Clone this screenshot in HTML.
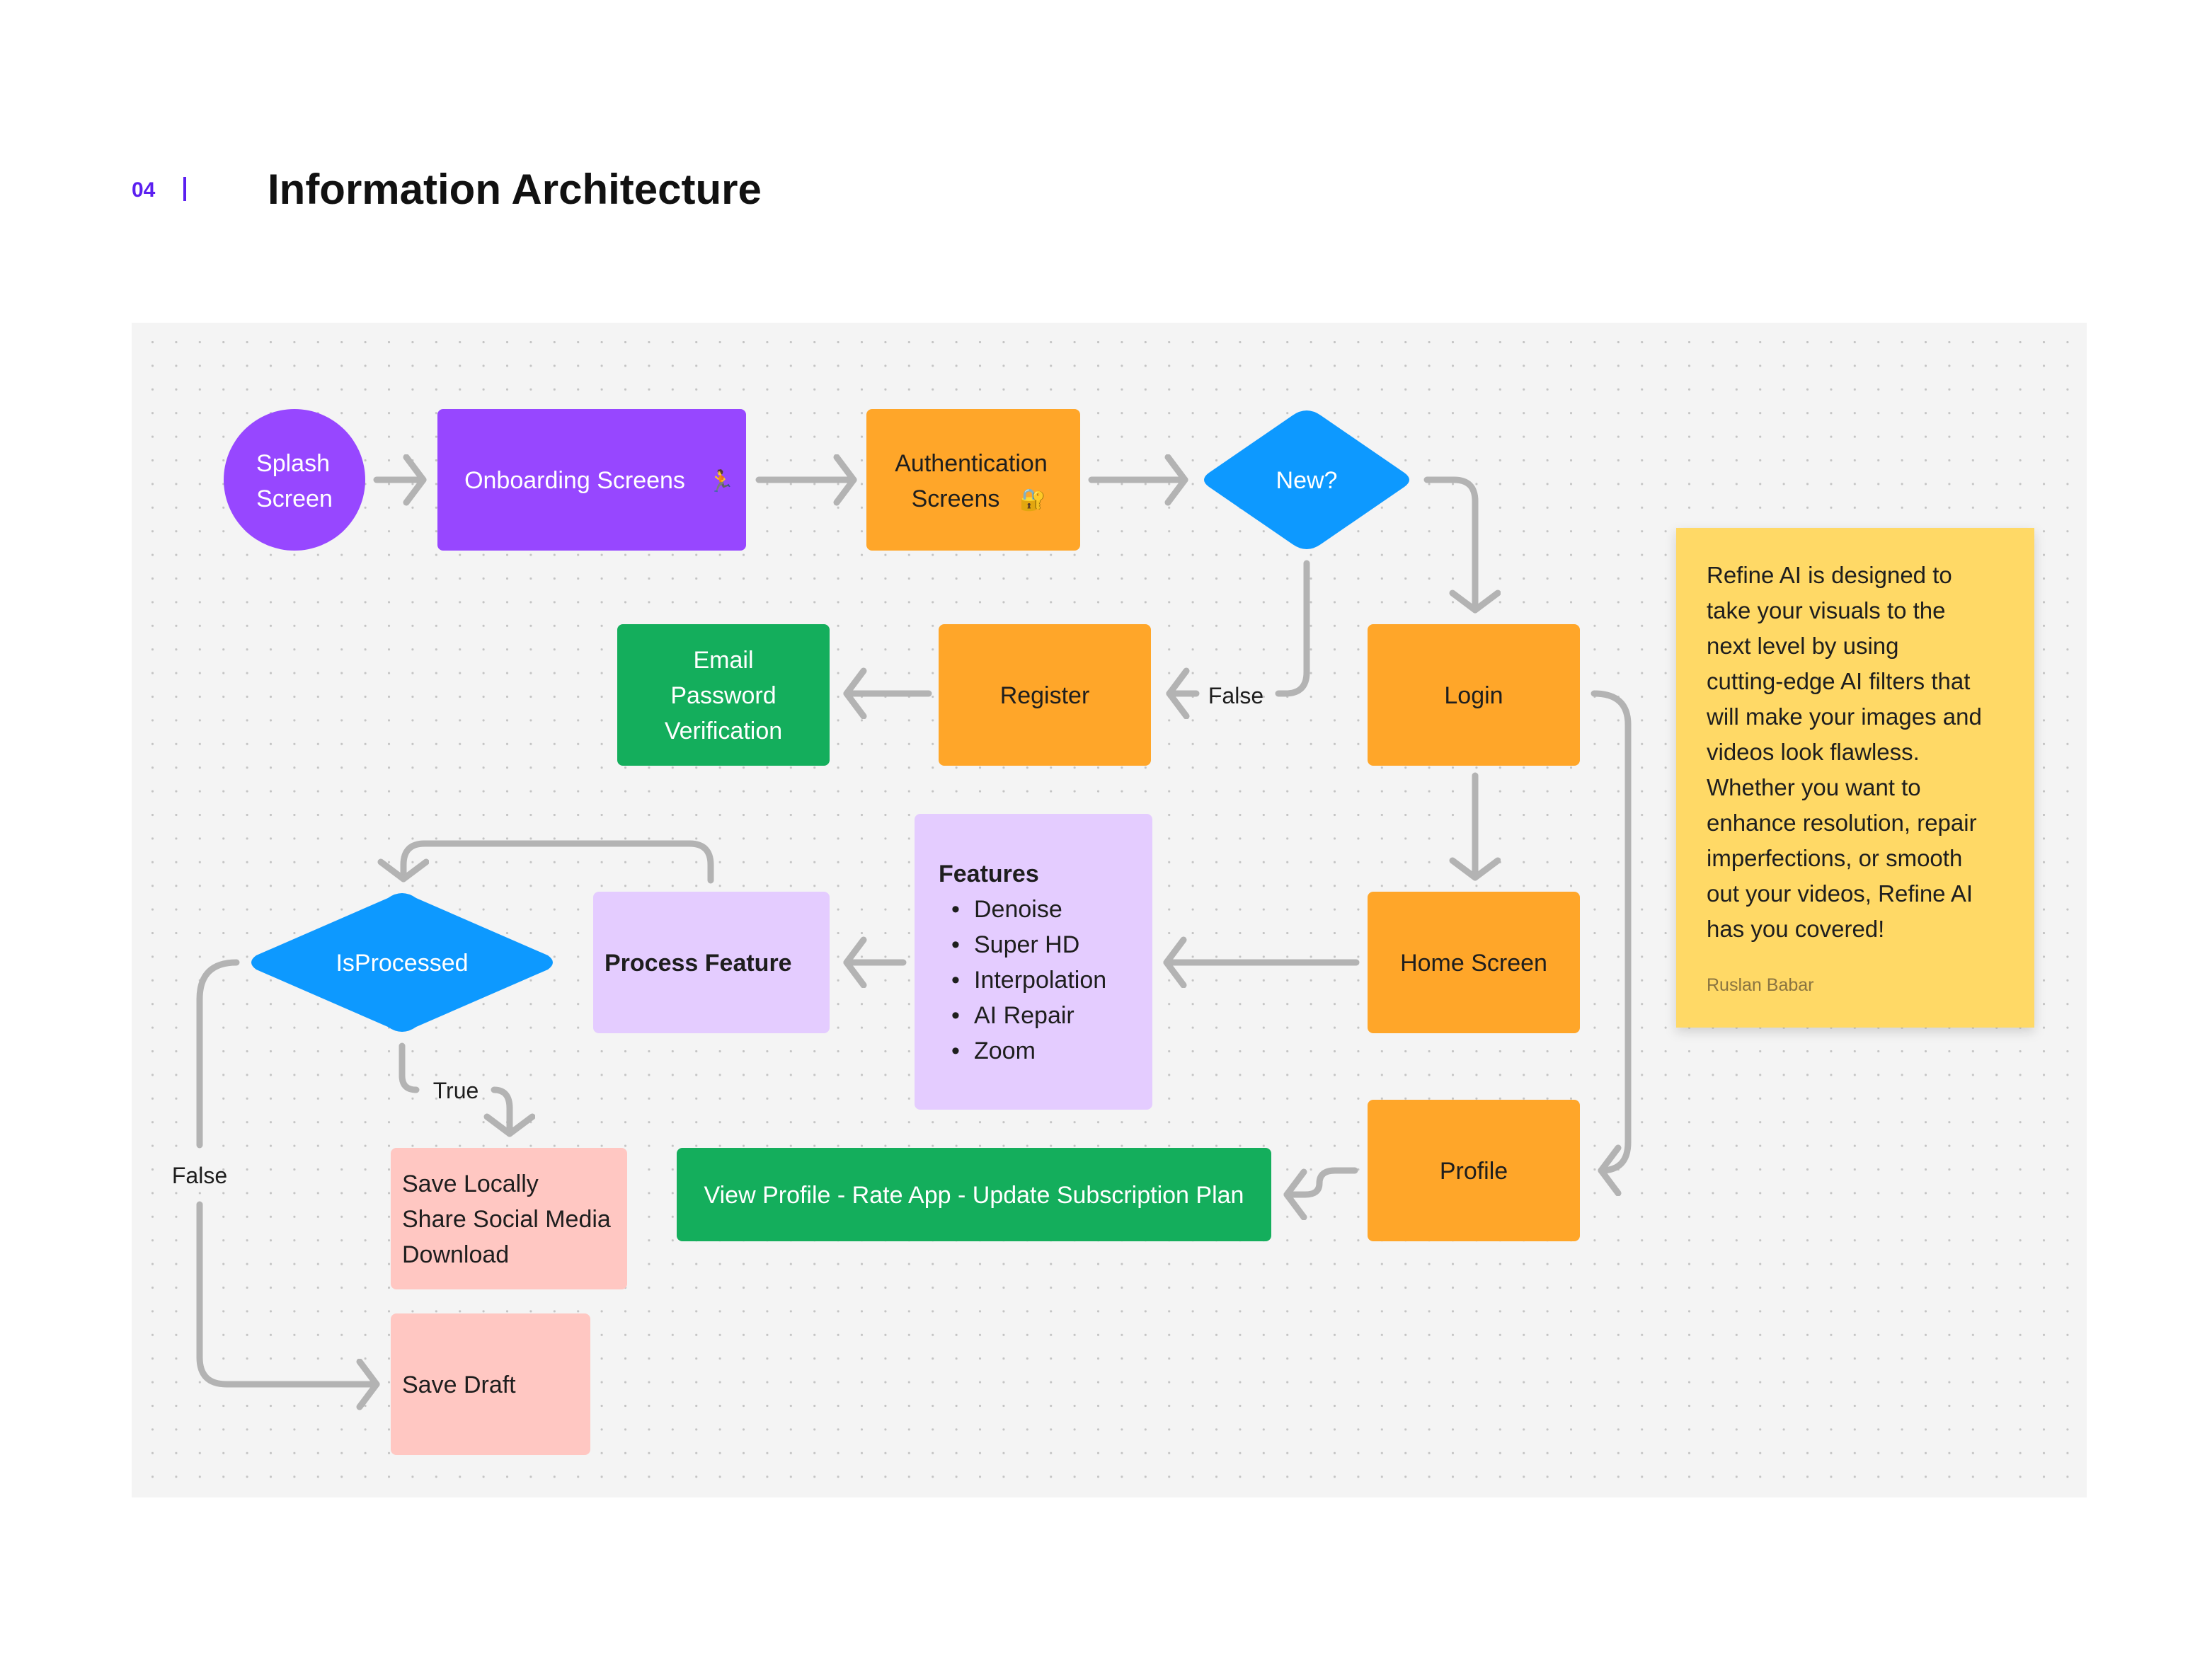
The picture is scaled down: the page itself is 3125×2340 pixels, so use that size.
<!DOCTYPE html>
<html><head><meta charset="utf-8"><style>
html,body{margin:0;padding:0;background:#fff;}
svg{display:block;}
text{font-family:"Liberation Sans",sans-serif;}
</style></head><body>
<svg width="3125" height="2340" viewBox="0 0 3125 2340" xmlns="http://www.w3.org/2000/svg">
<defs>
<pattern id="dots" x="214" y="482" width="33.4" height="33.4" patternUnits="userSpaceOnUse">
<circle cx="1.5" cy="1.5" r="1.6" fill="#c4c4c4"/>
</pattern>
<marker id="ah" markerUnits="userSpaceOnUse" markerWidth="60" markerHeight="80" refX="30" refY="36" orient="auto" viewBox="0 0 60 80">
<path d="M6,4 L30,36 L6,68" fill="none" stroke="#b3b3b3" stroke-width="9" stroke-linecap="round" stroke-linejoin="round"/>
</marker>
<filter id="sh" x="-10%" y="-10%" width="130%" height="130%"><feDropShadow dx="0" dy="6" stdDeviation="8" flood-color="#000" flood-opacity="0.15"/></filter>
</defs>
<rect width="3125" height="2340" fill="#fff"/>
<text x="186" y="278" font-size="30" fill="#5b1ff0" font-weight="bold">04</text>
<rect x="259" y="250" width="4" height="34" fill="#5b1ff0"/>
<text x="378" y="288" font-size="60" font-weight="bold" fill="#111">Information Architecture</text>

<rect x="186" y="456" width="2762" height="1660" fill="#f4f4f4"/>
<rect x="186" y="456" width="2762" height="1660" fill="url(#dots)"/>

<g fill="none" stroke="#b3b3b3" stroke-width="9" stroke-linecap="round" stroke-linejoin="round">
<path d="M532 678 H598" marker-end="url(#ah)"/>
<path d="M1072 678 H1206" marker-end="url(#ah)"/>
<path d="M1542 678 H1674" marker-end="url(#ah)"/>
<path d="M2016 678 H2054 Q2084 678 2084 708 V862" marker-end="url(#ah)"/>
<path d="M1846 796 V950 Q1846 980 1816 980 H1806"/>
<path d="M1690 980 H1652" marker-end="url(#ah)"/>
<path d="M1312 980 H1196" marker-end="url(#ah)"/>
<path d="M2084 1096 V1240" marker-end="url(#ah)"/>
<path d="M2252 980 Q2300 980 2300 1024 V1614 Q2300 1654 2262 1654" marker-end="url(#ah)"/>
<path d="M1916 1360 H1648" marker-end="url(#ah)"/>
<path d="M1276 1360 H1196" marker-end="url(#ah)"/>
<path d="M1004 1244 V1222 Q1004 1192 974 1192 H600 Q570 1192 570 1222 V1242" marker-end="url(#ah)"/>
<path d="M568 1478 V1520 Q568 1540 588 1540"/>
<path d="M698 1540 Q720 1540 720 1566 V1602" marker-end="url(#ah)"/>
<path d="M334 1360 Q282 1360 282 1412 V1618"/>
<path d="M282 1702 V1918 Q282 1956 320 1956 H532" marker-end="url(#ah)"/>
<path d="M1914 1654 H1886 Q1864 1654 1864 1672 Q1864 1688 1844 1688 H1818" marker-end="url(#ah)"/>
</g>

<!-- nodes -->
<circle cx="416" cy="678" r="100" fill="#9747ff"/>
<text x="414" y="666" font-size="34" fill="#fff" text-anchor="middle">Splash</text>
<text x="416" y="716" font-size="34" fill="#fff" text-anchor="middle">Screen</text>

<rect x="618" y="578" width="436" height="200" rx="8" fill="#9747ff"/>
<text x="812" y="690" font-size="34" fill="#fff" text-anchor="middle">Onboarding Screens</text>
<text x="1000" y="690" font-size="30" fill="#2a8">🏃</text>

<rect x="1224" y="578" width="302" height="200" rx="8" fill="#ffa629"/>
<text x="1372" y="666" font-size="34" fill="#1e1e1e" text-anchor="middle">Authentication</text>
<text x="1350" y="716" font-size="34" fill="#1e1e1e" text-anchor="middle">Screens</text>
<text x="1440" y="716" font-size="30" fill="#c8a030">🔐</text>

<path d="M1846 580 Q1856 580 1866 587 L1984 668 Q1998 678 1984 688 L1866 769 Q1856 776 1846 776 Q1836 776 1826 769 L1708 688 Q1694 678 1708 668 L1826 587 Q1836 580 1846 580 Z" fill="#0d99ff"/>
<text x="1846" y="690" font-size="34" fill="#fff" text-anchor="middle">New?</text>

<rect x="1932" y="882" width="300" height="200" rx="8" fill="#ffa629"/>
<text x="2082" y="994" font-size="34" fill="#1e1e1e" text-anchor="middle">Login</text>

<rect x="1326" y="882" width="300" height="200" rx="8" fill="#ffa629"/>
<text x="1476" y="994" font-size="34" fill="#1e1e1e" text-anchor="middle">Register</text>

<text x="1746" y="994" font-size="32" fill="#1e1e1e" text-anchor="middle">False</text>

<rect x="872" y="882" width="300" height="200" rx="8" fill="#14ae5c"/>
<text x="1022" y="944" font-size="34" fill="#fff" text-anchor="middle">Email</text>
<text x="1022" y="994" font-size="34" fill="#fff" text-anchor="middle">Password</text>
<text x="1022" y="1044" font-size="34" fill="#fff" text-anchor="middle">Verification</text>

<rect x="1292" y="1150" width="336" height="418" rx="8" fill="#e4ccff"/>
<text x="1326" y="1246" font-size="34" font-weight="bold" fill="#1e1e1e">Features</text>
<g font-size="34" fill="#1e1e1e">
<text x="1344" y="1296">•</text><text x="1376" y="1296">Denoise</text>
<text x="1344" y="1346">•</text><text x="1376" y="1346">Super HD</text>
<text x="1344" y="1396">•</text><text x="1376" y="1396">Interpolation</text>
<text x="1344" y="1446">•</text><text x="1376" y="1446">AI Repair</text>
<text x="1344" y="1496">•</text><text x="1376" y="1496">Zoom</text>
</g>

<rect x="1932" y="1260" width="300" height="200" rx="8" fill="#ffa629"/>
<text x="2082" y="1372" font-size="34" fill="#1e1e1e" text-anchor="middle">Home Screen</text>

<rect x="838" y="1260" width="334" height="200" rx="8" fill="#e4ccff"/>
<text x="854" y="1372" font-size="34" font-weight="bold" fill="#1e1e1e">Process Feature</text>

<path d="M568 1262 Q578 1262 588 1269 L774 1350 Q788 1360 774 1370 L588 1451 Q578 1458 568 1458 Q558 1458 548 1451 L362 1370 Q348 1360 362 1350 L548 1269 Q558 1262 568 1262 Z" fill="#0d99ff"/>
<text x="568" y="1372" font-size="34" fill="#fff" text-anchor="middle">IsProcessed</text>

<text x="644" y="1552" font-size="32" fill="#1e1e1e" text-anchor="middle">True</text>
<text x="282" y="1672" font-size="32" fill="#1e1e1e" text-anchor="middle">False</text>

<rect x="1932" y="1554" width="300" height="200" rx="8" fill="#ffa629"/>
<text x="2082" y="1666" font-size="34" fill="#1e1e1e" text-anchor="middle">Profile</text>

<rect x="956" y="1622" width="840" height="132" rx="8" fill="#14ae5c"/>
<text x="1376" y="1700" font-size="34" fill="#fff" text-anchor="middle">View Profile - Rate App - Update Subscription Plan</text>

<rect x="552" y="1622" width="334" height="200" rx="8" fill="#ffc7c2"/>
<g font-size="34" fill="#1e1e1e">
<text x="568" y="1684">Save Locally</text>
<text x="568" y="1734">Share Social Media</text>
<text x="568" y="1784">Download</text>
</g>

<rect x="552" y="1856" width="282" height="200" rx="8" fill="#ffc7c2"/>
<text x="568" y="1968" font-size="34" fill="#1e1e1e">Save Draft</text>

<rect x="2368" y="746" width="506" height="706" fill="#ffd966" filter="url(#sh)"/>
<g font-size="33" fill="#1e1e1e">
<text x="2411" y="824">Refine AI is designed to</text>
<text x="2411" y="874">take your visuals to the</text>
<text x="2411" y="924">next level by using</text>
<text x="2411" y="974">cutting-edge AI filters that</text>
<text x="2411" y="1024">will make your images and</text>
<text x="2411" y="1074">videos look flawless.</text>
<text x="2411" y="1124">Whether you want to</text>
<text x="2411" y="1174">enhance resolution, repair</text>
<text x="2411" y="1224">imperfections, or smooth</text>
<text x="2411" y="1274">out your videos, Refine AI</text>
<text x="2411" y="1324">has you covered!</text>
</g>
<text x="2411" y="1400" font-size="25" fill="#8a7440">Ruslan Babar</text>
</svg>
</body></html>
